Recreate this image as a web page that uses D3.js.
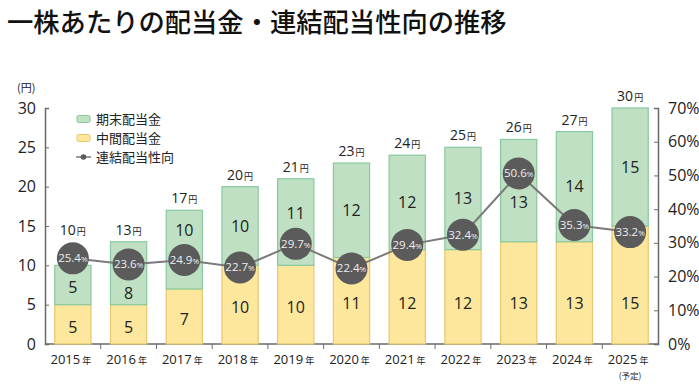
<!DOCTYPE html>
<html lang="ja">
<head>
<meta charset="utf-8">
<script src="https://cdn.jsdelivr.net/npm/d3@7"></script>
<style>
  body { margin: 0; background: #fff; }
  svg { display: block; font-family: "Open Sans", "Noto Sans CJK JP", sans-serif; }
  .jp { font-family: "Noto Sans CJK JP", sans-serif; }
</style>
</head>
<body>
<svg id="chart" width="699" height="386"></svg>
<script>
const years = ["2015", "2016", "2017", "2018", "2019", "2020", "2021", "2022", "2023", "2024", "2025"];
const interim = [5, 5, 7, 10, 10, 11, 12, 12, 13, 13, 15];
const yearEnd = [5, 8, 10, 10, 11, 12, 12, 13, 13, 14, 15];
const totals = [10, 13, 17, 20, 21, 23, 24, 25, 26, 27, 30];
const payout = [25.4, 23.6, 24.9, 22.7, 29.7, 22.4, 29.4, 32.4, 50.6, 35.3, 33.2];
const leftTicks = [0, 5, 10, 15, 20, 25, 30];
const rightTicks = [0, 10, 20, 30, 40, 50, 60, 70];
const legendItems = ["期末配当金", "中間配当金", "連結配当性向"];

const colors = {
  green: "#bfe0c3", greenStroke: "#88c9a0",
  yellow: "#fde79c", yellowStroke: "#e6c86e",
  dot: "#5b5b5b", line: "#7a7a7a", axis: "#6a6a6a", text: "#222"
};

const svg = d3.select("#chart");
const margin = { left: 45, right: 41, top: 108, bottom: 42 };
const W = 699, H = 386;

const x = d3.scaleBand()
  .domain(years)
  .range([margin.left, W - margin.right])
  .paddingInner(0.35)
  .paddingOuter(0.175);
const y = d3.scaleLinear().domain([0, 30]).range([H - margin.bottom, margin.top]);
const y2 = d3.scaleLinear().domain([0, 70]).range([H - margin.bottom, margin.top]);
const R = 16;

// title
svg.append("text")
  .attr("class", "jp")
  .attr("x", 7)
  .attr("y", 32)
  .attr("font-size", 26.3)
  .attr("font-weight", 500)
  .attr("fill", "#111")
  .text("一株あたりの配当金・連結配当性向の推移");

svg.append("text")
  .attr("class", "jp")
  .attr("x", 17)
  .attr("y", 92)
  .attr("font-size", 11)
  .attr("fill", colors.text)
  .text("(円)");

// axes
const leftAxis = svg.append("g")
  .attr("transform", `translate(${margin.left},0)`)
  .call(d3.axisRight(y).tickValues(leftTicks).tickSize(4).tickSizeOuter(4));
leftAxis.selectAll("text").remove();
leftAxis.append("g").selectAll("text")
  .data(leftTicks)
  .join("text")
  .attr("x", -9)
  .attr("y", d => y(d) + 5.5)
  .attr("text-anchor", "end")
  .attr("font-size", 16)
  .attr("fill", colors.text)
  .text(d => d);

const rightAxis = svg.append("g")
  .attr("transform", `translate(${W - margin.right},0)`)
  .call(d3.axisLeft(y2).tickValues(rightTicks).tickSize(4).tickSizeOuter(4));
rightAxis.selectAll("text").remove();
rightAxis.append("g").selectAll("text")
  .data(rightTicks)
  .join("text")
  .attr("x", 10)
  .attr("y", d => y2(d) + 5.5)
  .attr("text-anchor", "start")
  .attr("font-size", 16)
  .attr("fill", colors.text)
  .text(d => d + "%");

[leftAxis, rightAxis].forEach(g => {
  g.attr("font-family", null).attr("font-size", null);
  g.selectAll("path, line").attr("stroke", colors.axis);
  g.select("path.domain").attr("stroke-width", 1.5);
});

const step = x.step();
const bottomAxis = svg.append("g")
  .attr("transform", `translate(0,${H - margin.bottom})`);
bottomAxis.append("line")
  .attr("x1", margin.left).attr("x2", W - margin.right)
  .attr("stroke", colors.axis).attr("stroke-width", 1.5);
bottomAxis.selectAll(".tk")
  .data(years.slice(1))
  .join("line")
  .attr("class", "tk")
  .attr("x1", d => x(d) - (step - x.bandwidth()) / 2)
  .attr("x2", d => x(d) - (step - x.bandwidth()) / 2)
  .attr("y1", 0).attr("y2", 5)
  .attr("stroke", colors.axis);

// x labels
const xl = svg.append("g").selectAll("text")
  .data(years)
  .join("text")
  .attr("x", d => x(d) + x.bandwidth() / 2 - 2)
  .attr("y", H - margin.bottom + 20)
  .attr("text-anchor", "middle")
  .attr("fill", colors.text);
xl.append("tspan").attr("font-size", 13).text(d => d);
xl.append("tspan").attr("class", "jp").attr("font-size", 9).attr("dx", 2).text("年");

svg.append("text")
  .attr("class", "jp")
  .attr("x", x("2025") + x.bandwidth() / 2)
  .attr("y", H - 7)
  .attr("text-anchor", "middle")
  .attr("font-size", 8.5)
  .attr("fill", colors.text)
  .text("(予定)");

// bars
const bars = svg.append("g");
bars.selectAll(".yb")
  .data(years)
  .join("rect")
  .attr("x", d => x(d))
  .attr("width", x.bandwidth())
  .attr("y", (d, i) => y(interim[i]))
  .attr("height", (d, i) => y(0) - y(interim[i]))
  .attr("fill", colors.yellow)
  .attr("stroke", colors.yellowStroke)
  .attr("stroke-width", 1.2);
bars.selectAll(".gb")
  .data(years)
  .join("rect")
  .attr("x", d => x(d))
  .attr("width", x.bandwidth())
  .attr("y", (d, i) => y(interim[i] + yearEnd[i]))
  .attr("height", (d, i) => y(interim[i]) - y(interim[i] + yearEnd[i]))
  .attr("fill", colors.green)
  .attr("stroke", colors.greenStroke)
  .attr("stroke-width", 1.2);

// segment labels
const cyOf = i => y2(payout[i]);
const segLabels = svg.append("g")
  .attr("font-size", 16)
  .attr("fill", colors.text)
  .attr("text-anchor", "middle");
segLabels.selectAll(".yl")
  .data(years)
  .join("text")
  .attr("x", d => x(d) + x.bandwidth() / 2)
  .attr("y", (d, i) => Math.max((y(0) + y(interim[i])) / 2, y(5.5)) + 3 + 5.5)
  .text((d, i) => interim[i]);
segLabels.selectAll(".gl")
  .data(years)
  .join("text")
  .attr("x", d => x(d) + x.bandwidth() / 2)
  .attr("y", (d, i) => {
    const top = y(interim[i] + yearEnd[i]), bot = y(interim[i]);
    let c = (top + bot) / 2;
    const cy = cyOf(i);
    if (Math.abs(c - cy) < 30) {
      c = (cy - R - top) > (bot - cy - R) ? cy - 30 : cy + 29;
    }
    return c + 5.5;
  })
  .text((d, i) => yearEnd[i]);

// total labels
const tl = svg.append("g").selectAll("text")
  .data(years)
  .join("text")
  .attr("x", d => x(d) + x.bandwidth() / 2)
  .attr("y", (d, i) => Math.min(y(totals[i]), cyOf(i) - R) - 7)
  .attr("text-anchor", "middle")
  .attr("fill", colors.text);
tl.append("tspan").attr("font-size", 14).text((d, i) => totals[i]);
tl.append("tspan").attr("class", "jp").attr("font-size", 9).attr("dx", 1).text("円");

// payout line
const cx = d => x(d) + x.bandwidth() / 2;
svg.append("path")
  .datum(years)
  .attr("fill", "none")
  .attr("stroke", colors.line)
  .attr("stroke-width", 2)
  .attr("d", d3.line().x(d => cx(d)).y((d, i) => cyOf(i)));

const dots = svg.append("g").selectAll("g")
  .data(years)
  .join("g")
  .attr("transform", (d, i) => `translate(${cx(d)},${cyOf(i)})`);
dots.append("circle").attr("r", R).attr("fill", colors.dot);
const dt = dots.append("text")
  .attr("text-anchor", "middle")
  .attr("y", 4)
  .attr("fill", "#eee");
dt.append("tspan").attr("font-size", 11.5).text((d, i) => payout[i].toFixed(1));
dt.append("tspan").attr("font-size", 8).text("%");

// legend
const lg = svg.append("g").attr("transform", "translate(77,119)");
const swatch = [[colors.green, colors.greenStroke], [colors.yellow, colors.yellowStroke]];
lg.selectAll("g")
  .data(legendItems)
  .join("g")
  .attr("transform", (d, i) => `translate(0,${i * 19})`)
  .each(function(d, i) {
    const g = d3.select(this);
    if (i < 2) {
      g.append("rect").attr("x", 0).attr("y", -3.5).attr("width", 13).attr("height", 7).attr("rx", 1.5)
        .attr("fill", swatch[i][0]).attr("stroke", swatch[i][1]);
    } else {
      g.append("line").attr("x1", -1).attr("x2", 14).attr("stroke", colors.line).attr("stroke-width", 1.5);
      g.append("circle").attr("cx", 6.5).attr("r", 2.8).attr("fill", colors.dot);
    }
    g.append("text").attr("class", "jp").attr("x", 19).attr("y", 4.5)
      .attr("font-size", 13).attr("fill", colors.text).text(d);
  });
</script>
</body>
</html>
